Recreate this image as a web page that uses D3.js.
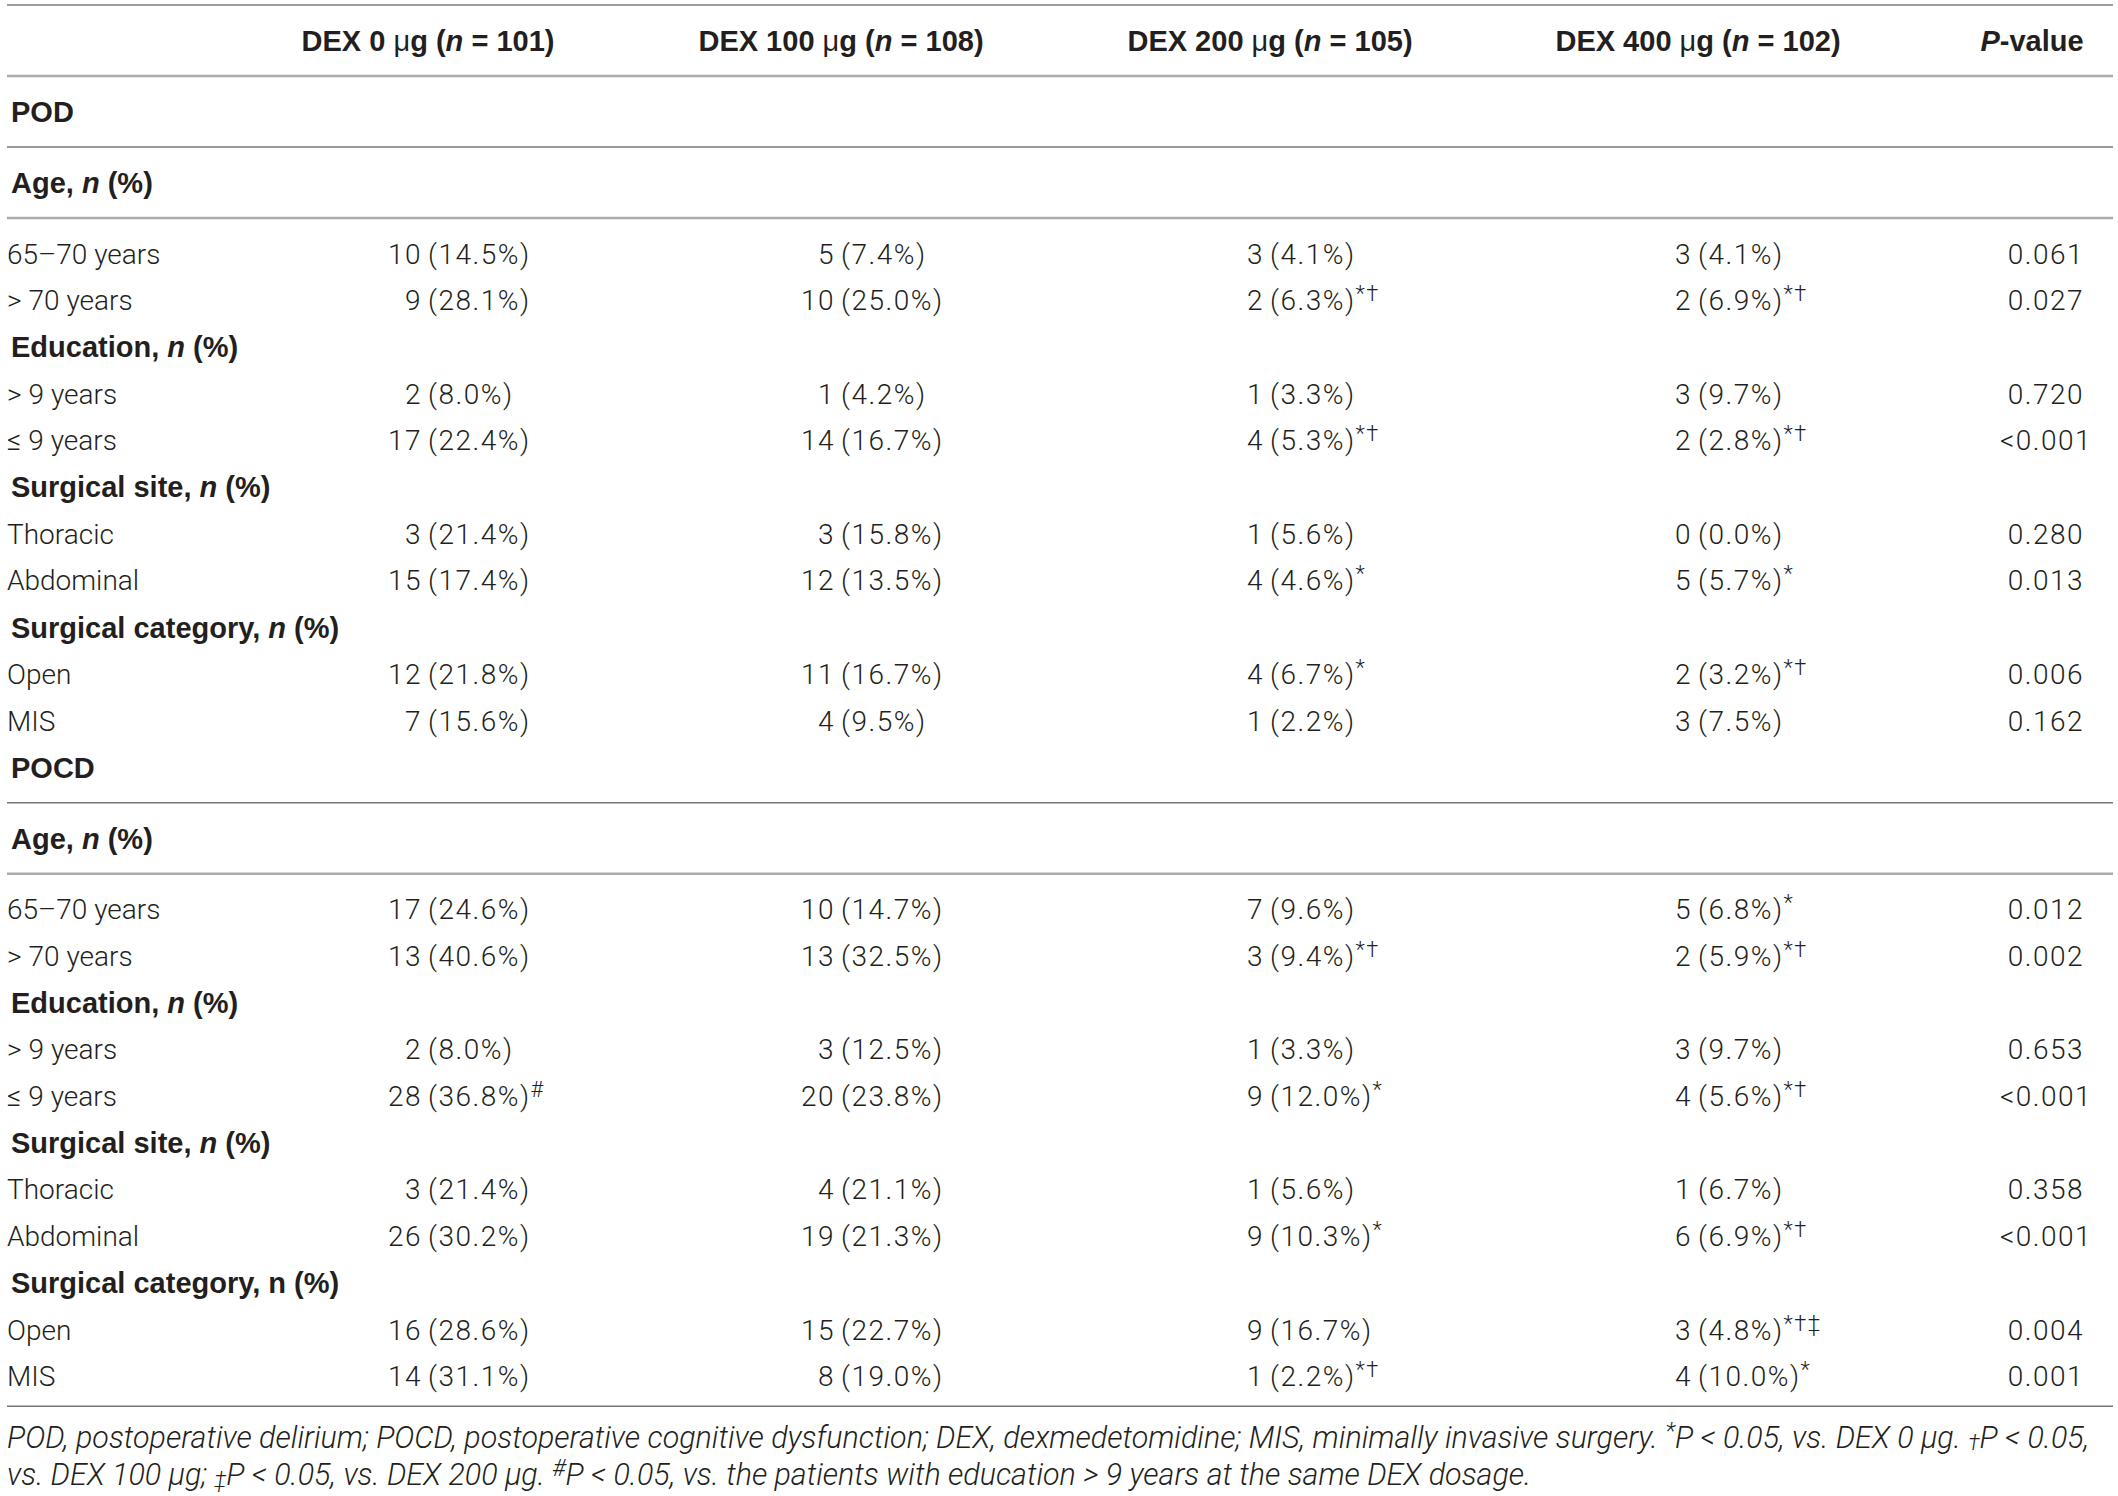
<!DOCTYPE html>
<html>
<head>
<meta charset="utf-8">
<script src="https://cdn.jsdelivr.net/npm/d3@7"></script>
<style>
  body { margin: 0; background: #fff; }
  svg { display: block; }
  text { fill: #231f20; }
  .light { font-family: Roboto, "Liberation Sans", sans-serif; font-weight: 300; font-size: 28px; }
  .num { letter-spacing: 1.5px; }
  .bold { font-family: "Liberation Sans", Arial, sans-serif; font-weight: 700; font-size: 29px; }
  .note { font-family: Roboto, "Liberation Sans", sans-serif; font-weight: 300; font-style: italic; font-size: 27px; }
</style>
</head>
<body>
<div id="table"></div>
<script>
// table columns
var doses = ["0", "100", "200", "400"],
    groupN = [101, 108, 105, 102];

// row structure
var sectionNames = ["POD", "POCD"];
var factors = ["Age", "Education", "Surgical site", "Surgical category"];
var levels = [["65–70 years", ">70 years"], [">9 years", "≤9 years"], ["Thoracic", "Abdominal"], ["Open", "MIS"]];
var italicN = [[true, true, true, true], [true, true, true, false]];

// POD values (count, percent, significance marks, P)
var podCounts = [[10, 5, 3, 3], [9, 10, 2, 2], [2, 1, 1, 3], [17, 14, 4, 2], [3, 3, 1, 0], [15, 12, 4, 5], [12, 11, 4, 2], [7, 4, 1, 3]];
var podPct = [[14.5, 7.4, 4.1, 4.1], [28.1, 25.0, 6.3, 6.9], [8.0, 4.2, 3.3, 9.7], [22.4, 16.7, 5.3, 2.8], [21.4, 15.8, 5.6, 0.0], [17.4, 13.5, 4.6, 5.7], [21.8, 16.7, 6.7, 3.2], [15.6, 9.5, 2.2, 7.5]];
var podMarks = [["", "", "", ""], ["", "", "*†", "*†"], ["", "", "", ""], ["", "", "*†", "*†"], ["", "", "", ""], ["", "", "*", "*"], ["", "", "*", "*†"], ["", "", "", ""]];
var podP = ["0.061", "0.027", "0.720", "<0.001", "0.280", "0.013", "0.006", "0.162"];

// POCD values
var pocdCounts = [[17, 10, 7, 5], [13, 13, 3, 2], [2, 3, 1, 3], [28, 20, 9, 4], [3, 4, 1, 1], [26, 19, 9, 6], [16, 15, 9, 3], [14, 8, 1, 4]];
var pocdPct = [[24.6, 14.7, 9.6, 6.8], [40.6, 32.5, 9.4, 5.9], [8.0, 12.5, 3.3, 9.7], [36.8, 23.8, 12.0, 5.6], [21.4, 21.1, 5.6, 6.7], [30.2, 21.3, 10.3, 6.9], [28.6, 22.7, 16.7, 4.8], [31.1, 19.0, 2.2, 10.0]];
var pocdMarks = [["", "", "", "*"], ["", "", "*†", "*†"], ["", "", "", ""], ["#", "", "*", "*†"], ["", "", "", ""], ["", "", "*", "*†"], ["", "", "", "*†‡"], ["", "", "*†", "*"]];
var pocdP = ["0.012", "0.002", "0.653", "<0.001", "0.358", "<0.001", "0.004", "0.001"];

var width = 2118, height = 1496,
    left = 7, right = 2113,
    topRule = 5, toRule = 35.5, rowStep = 46.7;

var svg = d3.select("#table").append("svg")
    .attr("width", width)
    .attr("height", height);

// column anchors: the "(" of every cell sits on the group's centre
var colX = d3.scaleOrdinal()
    .domain(d3.range(doses.length))
    .range([428, 841, 1270, 1698]);
var pX = 2046, pHeadX = 2032, gap = 6;

// rich text helper: parts = [{t, i, w, sup, small, dx}]
function rich(sel, parts) {
    var shift = 0;
    parts.forEach(function(p) {
        var t = sel.append("tspan").text(p.t);
        if (p.i) t.style("font-style", "italic");
        if (p.w) t.style("font-weight", p.w);
        if (p.dx) t.attr("dx", p.dx);
        if (p.sup) {
            t.style("font-size", "0.78em").attr("dy", -9 - shift);
            shift = -9;
        } else if (p.small) {
            t.style("font-size", "0.7em").attr("dy", 2 - shift);
            shift = 2;
        } else if (shift) {
            t.attr("dy", -shift);
            shift = 0;
        }
    });
}

// build the row list
var sections = [
    { name: sectionNames[0], counts: podCounts, pct: podPct, marks: podMarks, p: podP, italic: italicN[0] },
    { name: sectionNames[1], counts: pocdCounts, pct: pocdPct, marks: pocdMarks, p: pocdP, italic: italicN[1] }
];
var rows = [{ type: "head", rule: "light" }];
sections.forEach(function(s) {
    rows.push({ type: "section", label: s.name, rule: "dark" });
    factors.forEach(function(f, fi) {
        rows.push({ type: "factor", label: f, italic: s.italic[fi], rule: fi == 0 ? "light" : null });
        levels[fi].forEach(function(lv, li) {
            var r = fi * 2 + li;
            rows.push({ type: "data", label: lv, counts: s.counts[r], pct: s.pct[r], marks: s.marks[r], p: s.p[r] });
        });
    });
});
rows[rows.length - 1].rule = "bottom";

// vertical layout
var y = topRule + toRule;
rows.forEach(function(r, i) {
    if (i > 0) y = rows[i - 1].rule ? rows[i - 1].ruleY + toRule : y + rowStep;
    r.y = y;
    if (r.rule) r.ruleY = y + (r.rule == "bottom" ? 30 : toRule);
});

// rules
var ruleStyle = {
    top: { c: "#9d9d9d", w: 2.2 },
    light: { c: "#ababab", w: 2.4 },
    dark: { c: "#777", w: 1.6 },
    bottom: { c: "#777", w: 1.6 }
};
var rules = [{ y: topRule, kind: "top" }].concat(rows.filter(function(r) { return r.rule; })
    .map(function(r) { return { y: r.ruleY, kind: r.rule }; }));

svg.append("g")
    .selectAll("line")
    .data(rules)
    .enter()
    .append("line")
    .attr("x1", left)
    .attr("x2", right)
    .attr("y1", function(d) { return d.y; })
    .attr("y2", function(d) { return d.y; })
    .attr("stroke", function(d) { return ruleStyle[d.kind].c; })
    .attr("stroke-width", function(d) { return ruleStyle[d.kind].w; });

// header
var head = rows[0];
svg.append("g")
    .selectAll("text")
    .data(doses)
    .enter()
    .append("text")
    .attr("class", "bold")
    .attr("x", function(d, i) { return colX(i); })
    .attr("y", head.y)
    .attr("dy", "0.36em")
    .attr("text-anchor", "middle")
    .each(function(d, i) {
        rich(d3.select(this), [
            { t: "DEX " + d + " " }, { t: "μ", w: 400 }, { t: "g (" }, { t: "n", i: true }, { t: " = " + groupN[i] + ")" }
        ]);
    });

svg.append("text")
    .attr("class", "bold")
    .attr("x", pHeadX)
    .attr("y", head.y)
    .attr("dy", "0.36em")
    .attr("text-anchor", "middle")
    .call(rich, [{ t: "P", i: true }, { t: "-value" }]);

// section and factor labels
svg.append("g")
    .selectAll("text")
    .data(rows.filter(function(r) { return r.type == "section" || r.type == "factor"; }))
    .enter()
    .append("text")
    .attr("class", "bold")
    .attr("x", left + 4)
    .attr("y", function(d) { return d.y; })
    .attr("dy", "0.36em")
    .each(function(d) {
        if (d.type == "section") d3.select(this).text(d.label);
        else rich(d3.select(this), [{ t: d.label + ", " }, { t: "n", i: d.italic }, { t: " (%)" }]);
    });

// data rows
var dataRows = rows.filter(function(r) { return r.type == "data"; });
var rowG = svg.append("g")
    .selectAll("g")
    .data(dataRows)
    .enter()
    .append("g")
    .attr("class", "light")
    .attr("transform", function(d) { return "translate(0," + d.y + ")"; });

// labels; a leading relation sign gets its math spacing
rowG.append("text")
    .attr("x", left)
    .attr("dy", "0.36em")
    .each(function(d) {
        var m = /^([>≤])(.*)$/.exec(d.label);
        if (m) rich(d3.select(this), [{ t: m[1] }, { t: m[2], dx: 7 }]);
        else d3.select(this).text(d.label);
    });

var cells = rowG.selectAll("g.cell")
    .data(function(d) { return d.counts.map(function(c, j) { return { j: j, count: c, pct: d.pct[j], mark: d.marks[j] }; }); })
    .enter()
    .append("g")
    .attr("class", "cell num");

cells.append("text")
    .attr("x", function(d) { return colX(d.j) - gap; })
    .attr("dy", "0.36em")
    .attr("text-anchor", "end")
    .text(function(d) { return d.count; });

cells.append("text")
    .attr("x", function(d) { return colX(d.j); })
    .attr("dy", "0.36em")
    .each(function(d) {
        var parts = [{ t: "(" + d.pct.toFixed(1) + "%)" }];
        if (d.mark) parts.push({ t: d.mark, sup: true });
        rich(d3.select(this), parts);
    });

rowG.append("text")
    .attr("class", "num")
    .attr("x", pX)
    .attr("dy", "0.36em")
    .attr("text-anchor", "middle")
    .text(function(d) { return d.p; });

// footnote
var noteY = rows[rows.length - 1].ruleY + 31;
var noteLines = [
    [{ t: "POD, postoperative delirium; POCD, postoperative cognitive dysfunction; DEX, dexmedetomidine; MIS, minimally invasive surgery. " },
     { t: "*", sup: true }, { t: "P < 0.05, vs. DEX 0 " }, { t: "μ" }, { t: "g. " }, { t: "†", small: true }, { t: "P < 0.05," }],
    [{ t: "vs. DEX 100 " }, { t: "μ" }, { t: "g; " }, { t: "‡", small: true }, { t: "P < 0.05, vs. DEX 200 " }, { t: "μ" }, { t: "g. " },
     { t: "#", sup: true }, { t: "P < 0.05, vs. the patients with education > 9 years at the same DEX dosage." }]
];

var notes = svg.append("g")
    .selectAll("text")
    .data(noteLines)
    .enter()
    .append("text")
    .attr("class", "note")
    .attr("x", left)
    .attr("y", function(d, i) { return noteY + i * 37; })
    .attr("dy", "0.36em")
    .each(function(d) { rich(d3.select(this), d); });

// fit the first footnote line to the table width
var len = notes.node().getComputedTextLength();
var fs = 27 * (2090 - left) / len;
notes.style("font-size", fs + "px");
</script>
</body>
</html>
